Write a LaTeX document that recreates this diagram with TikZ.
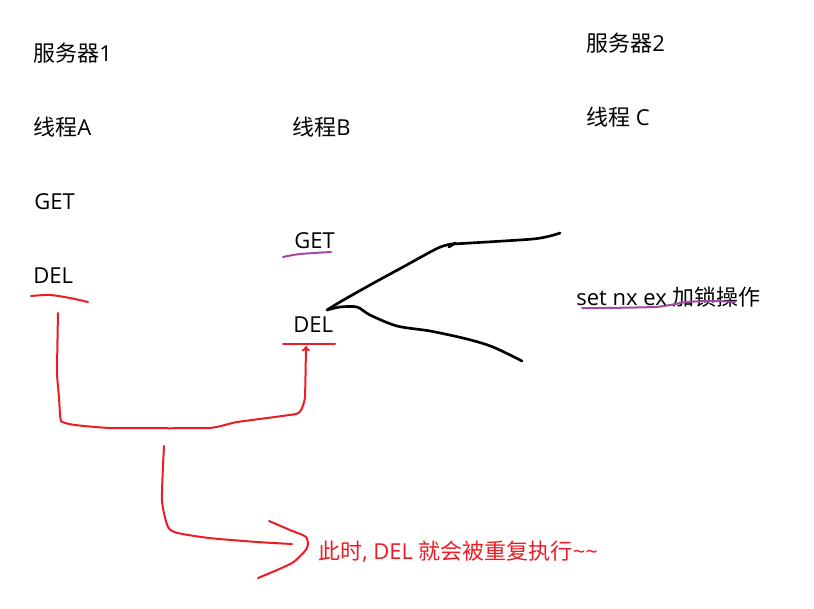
\documentclass[tikz,border=0pt]{standalone}
\usepackage{fontspec}
\setmainfont{Noto Sans CJK SC}
\newfontfamily\lat{Open Sans}
\usetikzlibrary{arrows.meta}
\definecolor{penred}{RGB}{237,28,36}
\definecolor{penpurple}{RGB}{163,73,164}
\tikzset{
  lbl/.style={anchor=base west, inner sep=0pt, font=\fontsize{16.5}{19}\selectfont},
  redpen/.style={draw=penred, line width=1.5pt, line cap=round, line join=round},
  purplepen/.style={draw=penpurple, line width=1.5pt, line cap=round, line join=round},
  blackpen/.style={draw=black, line width=2pt, line cap=round, line join=round},
}
\begin{document}
\begin{tikzpicture}[x=0.75pt,y=-0.75pt]
\useasboundingbox (0,0) rectangle (814,608);
% texts
\node[lbl] (s1) at (33,61) {服务器{\lat 1}};
\node[lbl] (s2) at (586,51) {服务器{\lat 2}};
\node[lbl] (ta) at (33,135) {线程{\lat A}};
\node[lbl] (tb) at (292,135) {线程{\lat B}};
\node[lbl] (tc) at (586,125) {线程{\lat\ C}};
\node[lbl] (getA) at (34,209) {\lat GET};
\node[lbl] (delA) at (33,283) {\lat DEL};
\node[lbl] (getB) at (294,248) {\lat GET};
\node[lbl] (delB) at (293,332) {\lat DEL};
\node[lbl] (setnx) at (576,305) {{\lat set nx ex }加锁操作};
\node[lbl, text=penred] (msg) at (318,559) {此时{\lat, DEL }就会被重复执行{\lat\textasciitilde\textasciitilde}};

% underlines
\draw[purplepen] plot[smooth] coordinates {(283,257) (300,254) (331,252)};
\draw[redpen] plot[smooth] coordinates {(31,296) (50,295) (70,298) (88,302)};
\draw[redpen] (283,344) -- (335,344);
\draw[purplepen] plot[smooth, tension=0.6] coordinates {(582,308) (603,308) (653,307) (670,305) (687,302) (713,301) (735,302)};

% black strokes from server 2 to DEL of thread B
\coordinate (tip) at (327,310);
\draw[blackpen] plot[smooth, tension=0.5] coordinates {(560,233) (550,236) (533,239) (487,242) (453,244)};
\draw[blackpen] (455,243) -- (449,247);
\draw[blackpen] plot[smooth, tension=0.5] coordinates {(452,244) (438,248) (403,267) (370,285) (340,302) (tip)};
\draw[blackpen] plot[smooth, tension=0.5] coordinates {(tip) (340,307) (357,307) (370,315) (397,326) (430,331) (467,339) (493,347) (522,361)};

% red connector from DEL (A) to DEL (B)
\coordinate (ra) at (58,313);
\coordinate (rb) at (306,346);
\draw[redpen, -{To[length=4pt,width=6pt]}] plot[smooth, tension=0.25] coordinates {(ra) (57,373) (59,397) (61,421) (75,425) (111,428) (209,428) (237,422) (296,414) (302,408) (305,397) (rb)};

% red connector to message
\coordinate (rc) at (164,446);
\draw[redpen] plot[smooth, tension=0.4] coordinates {(rc) (162,500) (168,527) (178,533) (209,538) (257,542) (292,544)};
\draw[redpen] plot[smooth, tension=0.4] coordinates {(269,521) (290,530) (306,537) (307,548) (292,563) (258,578)};
\end{tikzpicture}
\end{document}
